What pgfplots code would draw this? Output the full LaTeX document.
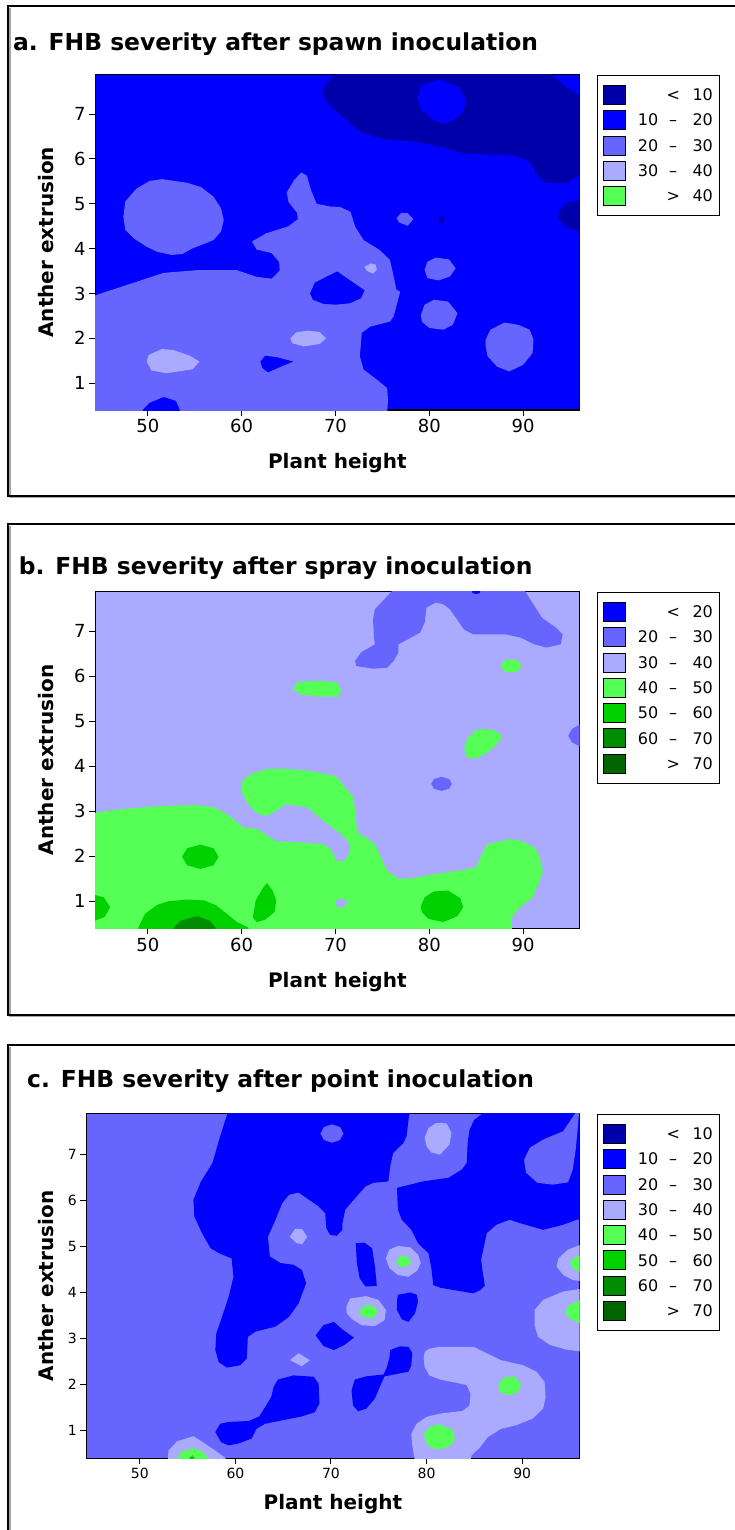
\documentclass[border=0pt]{standalone}
\usepackage{fontspec}
\setmainfont{DejaVu Sans}
\usepackage{pgfplots}
\pgfplotsset{compat=1.18}
\definecolor{c10}{RGB}{0,0,170}
\definecolor{c20}{RGB}{0,0,255}
\definecolor{c30}{RGB}{102,102,255}
\definecolor{c40}{RGB}{170,170,255}
\definecolor{c50}{RGB}{85,255,85}
\definecolor{c60}{RGB}{0,210,0}
\definecolor{c70}{RGB}{0,140,0}
\definecolor{c80}{RGB}{0,100,0}
\newcommand\ttlfont{\fontsize{23.4}{28}\selectfont\bfseries}
\newcommand\labfont{\fontsize{20}{24}\selectfont\bfseries}
\newcommand\tickab{\fontsize{18}{21}\selectfont}
\newcommand\tickc{\fontsize{14}{17}\selectfont}
\newcommand\legfont{\fontsize{16}{19}\selectfont}
\newcommand\lrng[2]{\makebox[22pt][r]{#1}\makebox[30pt]{–}\makebox[24.7pt][r]{#2}}
\newcommand\lone[2]{\makebox[22pt]{}\makebox[30pt]{#1}\makebox[24.7pt][r]{#2}}
\pgfplotsset{
  panel/.style={scale only axis, xmin=44.4, xmax=96, ymin=0.4, ymax=7.88,
    xtick={50,60,70,80,90}, ytick={1,2,3,4,5,6,7},
    tick align=outside, tick pos=left, major tick length=6pt,
    axis line style={line width=1.2pt},
    every tick/.style={black, line width=1pt},
    /pgf/number format/assume math mode=true,
    legend style={at={(1,1)}, anchor=north west, xshift=17pt, draw=black, line width=0.8pt,
      font=\legfont, inner xsep=6pt, inner ysep=9.8pt, row sep=5.5pt,
      nodes={inner sep=0pt, text height=11.5pt, text depth=0pt},
      cells={anchor=west}, /tikz/every odd column/.append style={column sep=10.5pt}},
    legend image code/.code={\fill[##1] (0pt,-9.5pt) rectangle (22pt,9.5pt);}},
  poly/.style={forget plot, draw=none, mark=none, fill=#1},
}
\begin{document}
\begin{tikzpicture}
\useasboundingbox (0,0) rectangle (735pt,-1530pt);
% frames
\foreach \t/\b in {6/495.5, 523.5/1014.5, 1045/1540}{
  \draw[gray!70, line width=1.5pt] (10pt,-\t pt-2pt) -- (10pt,-\b pt-2pt) -- (760pt,-\b pt-2pt);
  \draw[black, line width=2pt] (8pt,-\t pt) rectangle (760pt,-\b pt);
}
% ---------------- panel a ----------------
\begin{axis}[panel, at={(95.2pt,-410pt)}, anchor=south west, width=484.3pt, height=335.3pt,
  axis background/.style={fill=c20}, ticklabel style={font=\tickab}]
\addplot[poly=c10] coordinates {(70.3,8.0) (69.6,7.80) (69.0,7.68) (68.6,7.46) (69.2,7.24) (70.8,6.94) (72.6,6.61) (74.7,6.46) (78.7,6.38) (81.9,6.24) (83.6,6.12) (89.0,6.09) (90.7,5.94) (91.6,5.60) (92.5,5.47) (94.6,5.46) (95.7,5.60) (96.5,5.66) (96.5,7.40) (95.9,7.42) (94.3,7.65) (93.0,7.88) (92.9,8.0)} --cycle;
\addplot[poly=c20] coordinates {(78.7,7.35) (79.2,7.65) (81.1,7.77) (83.1,7.61) (83.9,7.31) (83.6,7.05) (82.6,6.87) (81.5,6.78) (80.4,6.87) (79.2,7.09)} --cycle;
\addplot[poly=c10] coordinates {(96.5,5.10) (94.6,5.02) (93.9,4.86) (93.7,4.68) (94.5,4.49) (96.5,4.34)} --cycle;
\addplot[poly=c10] coordinates {(81.3,4.74) (81.65,4.65) (81.3,4.56) (80.95,4.65)} --cycle;
\addplot[poly=c30] coordinates {(44.0,2.93) (51.7,3.46) (55.3,3.52) (59.5,3.52) (61.6,3.37) (63.2,3.33) (64.05,3.51) (64.0,3.70) (63.2,3.90) (61.6,3.98) (61.1,4.16) (62.6,4.34) (65.0,4.50) (66.0,4.66) (65.9,4.80) (65.0,5.04) (64.8,5.25) (65.6,5.53) (66.35,5.70) (66.95,5.63) (67.4,5.30) (68.0,5.0) (69.4,4.94) (70.5,4.93) (71.6,4.82) (72.1,4.49) (73.0,4.19) (74.7,3.97) (75.8,3.75) (76.2,3.38) (76.5,3.08) (76.9,3.04) (76.2,2.49) (75.8,2.37) (73.7,2.26) (72.8,2.12) (72.6,1.60) (73.0,1.30) (74.4,1.08) (75.5,0.89) (75.6,0.63) (75.5,0.3) (44.0,0.3)} --cycle;
\addplot[poly=c20] coordinates {(67.3,3.0) (67.8,3.24) (69.2,3.39) (70.2,3.49) (71.5,3.30) (73.1,3.07) (72.7,2.89) (71.5,2.78) (70.0,2.75) (68.7,2.77) (67.6,2.86)} --cycle;
\addplot[poly=c20] coordinates {(62.0,1.48) (62.5,1.61) (63.7,1.58) (65.5,1.48) (64.2,1.37) (62.8,1.24) (62.2,1.34)} --cycle;
\addplot[poly=c20] coordinates {(49.3,0.3) (49.5,0.41) (50.2,0.56) (51.7,0.69) (53.0,0.60) (53.4,0.41) (53.5,0.3)} --cycle;
\addplot[poly=c40] coordinates {(49.9,1.48) (50.1,1.63) (51.5,1.76) (52.7,1.74) (54.5,1.61) (55.5,1.48) (54.8,1.31) (52.0,1.22) (50.4,1.28)} --cycle;
\addplot[poly=c40] coordinates {(65.2,2.0) (65.8,2.13) (67.0,2.17) (68.3,2.14) (69.0,2.0) (68.3,1.87) (66.6,1.82) (65.4,1.89)} --cycle;
\addplot[poly=c40] coordinates {(73.1,3.60) (73.8,3.67) (74.3,3.64) (74.4,3.53) (74.0,3.44) (73.3,3.51)} --cycle;
\addplot[poly=c30] coordinates {(47.4,4.71) (47.6,5.05) (48.8,5.34) (50.2,5.51) (51.5,5.55) (54.2,5.47) (55.7,5.37) (57.0,5.16) (57.8,4.90) (58.1,4.64) (57.8,4.38) (57.0,4.19) (55.7,4.08) (54.7,4.0) (53.7,3.88) (52.5,3.86) (51.0,3.93) (49.8,4.05) (48.5,4.23) (47.6,4.42)} --cycle;
\addplot[poly=c30] coordinates {(76.5,4.68) (77.0,4.80) (77.7,4.79) (78.3,4.66) (77.7,4.51) (76.8,4.58)} --cycle;
\addplot[poly=c30] coordinates {(79.5,3.53) (79.8,3.71) (80.7,3.80) (82.1,3.76) (82.8,3.56) (82.2,3.38) (81.0,3.29) (79.8,3.34)} --cycle;
\addplot[poly=c30] coordinates {(79.1,2.52) (79.5,2.75) (80.5,2.86) (82.0,2.82) (83.0,2.56) (82.5,2.30) (81.5,2.19) (80.0,2.23) (79.2,2.37)} --cycle;
\addplot[poly=c30] coordinates {(86.0,1.97) (86.5,2.19) (88.0,2.35) (89.5,2.30) (90.7,2.19) (91.1,1.97) (91.0,1.67) (90.0,1.41) (88.5,1.26) (87.2,1.37) (86.2,1.60) (86.0,1.82)} --cycle;
\addlegendimage{fill=c10}\addlegendentry{\lone{<}{10}}
\addlegendimage{fill=c20}\addlegendentry{\lrng{10}{20}}
\addlegendimage{fill=c30}\addlegendentry{\lrng{20}{30}}
\addlegendimage{fill=c40}\addlegendentry{\lrng{30}{40}}
\addlegendimage{fill=c50}\addlegendentry{\lone{>}{40}}
\end{axis}
% ---------------- panel b ----------------
\begin{axis}[panel, at={(95.2pt,-928.3pt)}, anchor=south west, width=484.3pt, height=336.6pt,
  axis background/.style={fill=c40}, ticklabel style={font=\tickab}]
\addplot[poly=c30] coordinates {(76.3,8.0) (76.0,7.89) (74.2,7.49) (74.0,7.27) (74.1,6.86) (74.2,6.71) (72.7,6.53) (72.1,6.34) (72.2,6.23) (74.0,6.17) (75.5,6.19) (76.2,6.34) (76.7,6.53) (76.7,6.71) (77.7,6.82) (79.0,6.97) (79.5,7.19) (79.7,7.53) (80.7,7.64) (81.5,7.60) (82.2,7.49) (83.7,7.04) (84.7,6.93) (88.2,6.93) (89.7,6.86) (91.2,6.71) (92.5,6.64) (94.0,6.71) (94.2,6.93) (93.5,7.08) (92.0,7.30) (91.2,7.56) (90.2,7.89) (90.0,8.0)} --cycle;
\addplot[poly=c20] coordinates {(84.5,8.0) (84.6,7.85) (85.0,7.83) (85.4,7.85) (85.5,8.0)} --cycle;
\addplot[poly=c30] coordinates {(96.5,4.99) (95.2,4.83) (94.8,4.68) (95.2,4.53) (96.5,4.40)} --cycle;
\addplot[poly=c30] coordinates {(82.4,3.61) (82.1,3.72) (81.3,3.765) (80.5,3.72) (80.2,3.61) (80.5,3.50) (81.3,3.455) (82.1,3.50)} --cycle;
\addplot[poly=c50] coordinates {(44.0,2.96) (47.3,3.05) (51.7,3.12) (55.2,3.14) (57.2,3.08) (58.7,2.90) (60.2,2.64) (61.7,2.61) (63.0,2.42) (63.7,2.33) (66.2,2.31) (68.7,2.27) (69.5,2.16) (70.1,1.90) (71.0,1.90) (71.5,2.09) (71.5,2.27) (71.0,2.42) (70.1,2.57) (68.7,2.79) (67.0,3.09) (64.7,3.16) (63.7,3.01) (62.7,2.90) (61.7,2.94) (60.7,3.16) (59.9,3.46) (60.1,3.68) (61.0,3.83) (62.7,3.94) (64.2,3.95) (67.2,3.90) (70.0,3.78) (70.5,3.68) (71.0,3.53) (71.8,3.35) (72.1,3.05) (72.3,2.53) (73.2,2.42) (74.2,2.27) (75.5,1.68) (76.7,1.50) (78.2,1.51) (80.7,1.61) (83.7,1.70) (85.0,1.76) (85.5,2.01) (86.2,2.27) (88.5,2.38) (89.7,2.35) (91.2,2.20) (91.7,2.01) (92.1,1.68) (91.7,1.42) (91.0,1.09) (89.7,0.87) (88.8,0.65) (88.8,0.3) (44.0,0.3)} --cycle;
\addplot[poly=c40] coordinates {(71.25,0.96) (71.05,1.03) (70.6,1.06) (70.15,1.03) (69.95,0.96) (70.15,0.89) (70.6,0.86) (71.05,0.89)} --cycle;
\addplot[poly=c50] coordinates {(65.5,5.73) (66.0,5.88) (68.7,5.90) (70.2,5.85) (70.6,5.71) (70.3,5.55) (68.2,5.55) (66.2,5.60)} --cycle;
\addplot[poly=c50] coordinates {(89.8,6.23) (89.5,6.34) (88.7,6.38) (87.9,6.34) (87.6,6.23) (87.9,6.12) (88.7,6.08) (89.5,6.12)} --cycle;
\addplot[poly=c50] coordinates {(83.7,4.38) (84.0,4.60) (85.0,4.81) (86.2,4.83) (87.2,4.77) (87.8,4.66) (87.0,4.44) (86.2,4.31) (85.0,4.17) (84.0,4.20)} --cycle;
\addplot[poly=c60] coordinates {(57.55,1.99) (57.0,2.18) (55.6,2.26) (54.2,2.18) (53.65,1.99) (54.2,1.80) (55.6,1.72) (57.0,1.80)} --cycle;
\addplot[poly=c60] coordinates {(44.0,1.16) (45.3,1.09) (46.0,0.87) (45.4,0.65) (44.0,0.54)} --cycle;
\addplot[poly=c60] coordinates {(49.0,0.3) (49.0,0.42) (49.7,0.72) (51.0,0.92) (52.2,1.0) (54.2,1.04) (56.0,1.02) (57.3,0.91) (58.5,0.71) (59.5,0.54) (60.7,0.42) (60.9,0.3)} --cycle;
\addplot[poly=c60] coordinates {(61.2,0.65) (61.5,1.02) (62.2,1.27) (62.7,1.41) (63.3,1.24) (63.7,1.02) (63.5,0.76) (62.5,0.59) (61.6,0.54)} --cycle;
\addplot[poly=c60] coordinates {(79.1,0.89) (79.5,1.09) (80.5,1.22) (82.0,1.24) (83.3,1.07) (83.6,0.87) (83.0,0.67) (81.5,0.54) (79.9,0.61) (79.2,0.76)} --cycle;
\addplot[poly=c70] coordinates {(52.7,0.3) (52.8,0.42) (53.5,0.57) (55.3,0.67) (56.6,0.57) (57.2,0.42) (57.3,0.3)} --cycle;
\addlegendimage{fill=c20}\addlegendentry{\lone{<}{20}}
\addlegendimage{fill=c30}\addlegendentry{\lrng{20}{30}}
\addlegendimage{fill=c40}\addlegendentry{\lrng{30}{40}}
\addlegendimage{fill=c50}\addlegendentry{\lrng{40}{50}}
\addlegendimage{fill=c60}\addlegendentry{\lrng{50}{60}}
\addlegendimage{fill=c70}\addlegendentry{\lrng{60}{70}}
\addlegendimage{fill=c80}\addlegendentry{\lone{>}{70}}
\end{axis}
% ---------------- panel c ----------------
\begin{axis}[panel, at={(86.3pt,-1458.3pt)}, anchor=south west, width=493.2pt, height=344.6pt,
  axis background/.style={fill=c30}, ticklabel style={font=\tickc}]
\addplot[poly=c20] coordinates {(59.35,8.0) (58.4,7.39) (57.6,6.81) (56.4,6.41) (55.6,6.01) (55.7,5.65) (56.5,5.29) (57.4,4.96) (58.4,4.84) (59.6,4.74) (59.8,4.34) (59.3,3.91) (58.6,3.47) (58.0,3.11) (57.9,2.75) (58.25,2.49) (59.1,2.37) (60.5,2.42) (61.2,2.57) (61.3,3.04) (62.1,3.15) (64.2,3.26) (65.6,3.47) (66.6,3.76) (67.4,4.20) (66.95,4.49) (66.1,4.60) (64.7,4.64) (63.6,4.78) (63.4,5.21) (64.2,5.58) (64.9,5.94) (65.6,6.12) (66.6,6.17) (68.7,5.87) (69.4,5.72) (69.5,5.40) (69.9,5.25) (70.6,5.23) (71.2,5.36) (71.2,5.51) (71.5,5.80) (72.7,6.09) (73.6,6.30) (74.4,6.38) (76.0,6.41) (76.2,6.74) (76.5,7.03) (77.6,7.25) (77.9,7.39) (78.2,7.89) (78.25,8.0)} --cycle;
\addplot[poly=c30] coordinates {(71.3,7.45) (70.95,7.59) (70.1,7.65) (69.25,7.59) (68.9,7.45) (69.25,7.31) (70.1,7.25) (70.95,7.31)} --cycle;
\addplot[poly=c20] coordinates {(86.6,8.0) (85.0,7.75) (84.5,7.54) (84.3,7.25) (84.2,6.81) (83.7,6.67) (82.3,6.49) (79.6,6.41) (76.9,6.27) (77.0,5.80) (77.4,5.58) (78.4,5.36) (79.1,5.07) (80.2,4.85) (80.5,4.53) (80.7,4.16) (81.5,4.10) (84.9,3.98) (85.6,4.05) (86.1,4.15) (85.9,4.40) (85.7,4.71) (86.3,5.29) (87.3,5.47) (88.7,5.58) (89.7,5.51) (92.2,5.36) (94.3,5.47) (95.7,5.58) (96.5,5.60) (96.5,8.0)} --cycle;
\addplot[poly=c30] coordinates {(95.9,8.0) (94.3,7.50) (92.2,7.32) (90.8,7.14) (90.2,6.88) (90.4,6.60) (91.6,6.38) (93.2,6.34) (94.8,6.39) (95.3,6.67) (95.6,7.10) (95.8,7.54) (96.0,8.0)} --cycle;
\addplot[poly=c40] coordinates {(79.8,7.36) (80.2,7.57) (81.0,7.68) (82.1,7.67) (82.6,7.47) (82.4,7.21) (81.4,6.99) (80.5,7.04) (80.0,7.17)} --cycle;
\addplot[poly=c40] coordinates {(65.7,5.21) (66.25,5.38) (66.95,5.38) (67.5,5.21) (67.0,5.05) (66.4,5.07)} --cycle;
\addplot[poly=c40] coordinates {(65.7,2.53) (66.6,2.68) (67.8,2.53) (66.95,2.40)} --cycle;
\addplot[poly=c20] coordinates {(72.6,5.07) (73.5,5.08) (74.3,4.96) (74.6,4.56) (74.8,4.14) (73.6,4.13) (73.0,4.31) (72.7,4.64)} --cycle;
\addplot[poly=c40] coordinates {(75.75,4.74) (76.1,4.93) (77.0,5.01) (78.3,4.98) (79.1,4.82) (79.4,4.64) (79.0,4.47) (78.1,4.34) (77.0,4.38) (76.1,4.53)} --cycle;
\addplot[poly=c50] coordinates {(76.8,4.67) (77.3,4.79) (78.0,4.78) (78.4,4.65) (77.8,4.55) (77.2,4.56)} --cycle;
\addplot[poly=c40] coordinates {(96.5,5.07) (94.8,4.93) (93.8,4.74) (93.6,4.56) (94.3,4.38) (95.3,4.27) (96.5,4.24)} --cycle;
\addplot[poly=c50] coordinates {(96.5,4.85) (95.3,4.74) (95.0,4.64) (95.4,4.50) (96.5,4.42)} --cycle;
\addplot[poly=c40] coordinates {(71.6,3.69) (72.0,3.87) (73.7,3.92) (74.95,3.84) (75.75,3.62) (75.6,3.40) (74.6,3.27) (73.2,3.29) (72.2,3.42) (71.65,3.55)} --cycle;
\addplot[poly=c50] coordinates {(72.9,3.58) (73.6,3.73) (74.4,3.71) (74.95,3.58) (74.3,3.44) (73.4,3.46)} --cycle;
\addplot[poly=c20] coordinates {(77.0,3.95) (78.3,4.0) (79.0,3.95) (79.1,3.80) (78.8,3.55) (78.1,3.36) (77.4,3.42) (76.9,3.62) (76.9,3.80)} --cycle;
\addplot[poly=c20] coordinates {(68.4,3.07) (69.2,3.29) (70.3,3.36) (71.3,3.18) (72.4,3.02) (71.4,2.86) (70.3,2.75) (69.2,2.84)} --cycle;
\addplot[poly=c20] coordinates {(76.2,2.75) (77.2,2.83) (78.1,2.82) (78.5,2.69) (78.4,2.42) (78.1,2.28) (76.9,2.23) (75.6,2.18) (75.1,1.95) (74.6,1.70) (73.7,1.48) (72.85,1.42) (72.3,1.55) (72.15,1.88) (72.5,2.11) (73.7,2.18) (75.5,2.22) (75.8,2.35) (76.1,2.57)} --cycle;
\addplot[poly=c20] coordinates {(57.9,0.97) (58.4,1.15) (59.3,1.19) (61.4,1.21) (62.5,1.31) (63.1,1.51) (63.75,1.73) (64.0,1.95) (64.45,2.11) (66.1,2.20) (68.2,2.17) (68.7,2.02) (68.8,1.59) (68.3,1.40) (66.95,1.31) (63.1,1.15) (62.2,1.04) (61.7,0.83) (60.3,0.72) (59.3,0.68) (58.5,0.75)} --cycle;
\addplot[poly=c40] coordinates {(79.8,2.71) (80.3,2.78) (81.4,2.82) (84.9,2.82) (86.3,2.68) (87.8,2.53) (90.1,2.42) (91.5,2.28) (92.35,2.06) (92.45,1.73) (92.2,1.48) (91.1,1.26) (89.4,1.12) (87.8,1.04) (86.4,0.86) (85.6,0.64) (84.7,0.46) (84.6,0.3) (78.8,0.3) (78.5,0.68) (78.4,0.93) (78.95,1.15) (80.0,1.30) (81.4,1.37) (83.8,1.43) (84.5,1.55) (84.6,1.80) (84.2,1.99) (83.1,2.04) (81.4,2.11) (80.3,2.20) (79.8,2.38) (79.7,2.57)} --cycle;
\addplot[poly=c50] coordinates {(87.5,1.99) (88.0,2.15) (89.2,2.18) (89.9,2.01) (89.5,1.82) (88.5,1.77) (87.65,1.84)} --cycle;
\addplot[poly=c50] coordinates {(79.7,0.92) (80.3,1.08) (81.3,1.14) (82.8,1.01) (82.95,0.79) (82.25,0.64) (81.0,0.59) (80.1,0.68)} --cycle;
\addplot[poly=c40] coordinates {(96.5,4.09) (94.3,4.02) (92.2,3.84) (91.3,3.62) (91.3,3.29) (91.65,3.04) (92.9,2.86) (94.6,2.76) (96.5,2.71)} --cycle;
\addplot[poly=c50] coordinates {(96.5,3.87) (94.95,3.73) (94.5,3.58) (94.95,3.44) (96.5,3.29)} --cycle;
\addplot[poly=c40] coordinates {(52.9,0.3) (53.0,0.57) (53.9,0.77) (55.6,0.88) (56.3,0.79) (57.6,0.61) (58.95,0.41) (59.1,0.3)} --cycle;
\addplot[poly=c50] coordinates {(53.8,0.3) (54.25,0.53) (55.5,0.62) (56.5,0.56) (57.6,0.3)} --cycle;
\addplot[poly=c60] coordinates {(54.7,0.3) (55.5,0.47) (56.0,0.3)} --cycle;
\addlegendimage{fill=c10}\addlegendentry{\lone{<}{10}}
\addlegendimage{fill=c20}\addlegendentry{\lrng{10}{20}}
\addlegendimage{fill=c30}\addlegendentry{\lrng{20}{30}}
\addlegendimage{fill=c40}\addlegendentry{\lrng{30}{40}}
\addlegendimage{fill=c50}\addlegendentry{\lrng{40}{50}}
\addlegendimage{fill=c60}\addlegendentry{\lrng{50}{60}}
\addlegendimage{fill=c70}\addlegendentry{\lrng{60}{70}}
\addlegendimage{fill=c80}\addlegendentry{\lone{>}{70}}
\end{axis}
% titles and axis labels
\node[anchor=base west, inner sep=0pt, font=\ttlfont] at (13pt,-50.5pt) {a. FHB severity after spawn inoculation};
\node[anchor=base west, inner sep=0pt, font=\ttlfont] at (18.7pt,-574pt) {b. FHB severity after spray inoculation};
\node[anchor=base west, inner sep=0pt, font=\ttlfont] at (27pt,-1087.7pt) {c. FHB severity after point inoculation};
\node[anchor=base, inner sep=0pt, font=\labfont] at (337.3pt,-468pt) {Plant height};
\node[anchor=base, inner sep=0pt, font=\labfont] at (337.3pt,-987.5pt) {Plant height};
\node[anchor=base, inner sep=0pt, font=\labfont] at (332.9pt,-1509pt) {Plant height};
\node[anchor=base, rotate=90, inner sep=0pt, font=\labfont] at (53.5pt,-242.3pt) {Anther extrusion};
\node[anchor=base, rotate=90, inner sep=0pt, font=\labfont] at (53.5pt,-760pt) {Anther extrusion};
\node[anchor=base, rotate=90, inner sep=0pt, font=\labfont] at (53.5pt,-1286pt) {Anther extrusion};
\end{tikzpicture}
\end{document}
